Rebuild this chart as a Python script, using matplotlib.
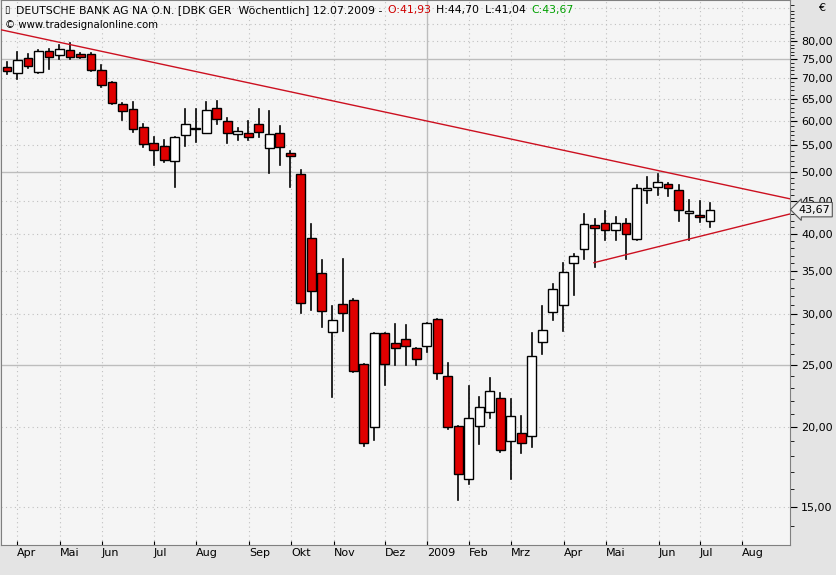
import matplotlib
matplotlib.use("Agg")
import matplotlib.pyplot as plt
import numpy as np
from matplotlib.patches import Rectangle

# weekly OHLC (EUR), Apr 2008 - Jul 2009
opens  = [72.9,71.3,75.3,71.6,77.2,76.1,77.5,76.4,76.4,72.1,69.1,63.8,62.7,58.8,55.5,54.9,52.0,57.0,58.3,57.5,62.9,60.1,57.3,57.5,59.4,54.5,57.5,53.5,
          49.6,39.5,34.8,28.1,31.1,31.6,25.1,20.0,28.0,27.1,27.4,26.6,26.8,29.5,24.0,20.1,16.6,20.1,21.1,22.2,19.0,19.6,19.4,27.2,30.2,31.0,
          36.0,37.9,41.4,41.6,40.6,41.7,39.3,46.9,47.4,47.9,46.9,43.1,42.8,41.93]
highs  = [74.3,77.0,76.4,77.5,77.8,79.0,79.3,76.7,76.7,73.4,69.1,64.1,64.3,59.4,56.6,56.0,56.6,62.7,62.7,64.3,64.6,60.7,58.5,60.1,62.7,62.3,59.0,53.9,
          50.3,41.5,36.5,30.9,36.6,31.7,25.1,28.0,28.0,29.0,28.9,26.6,29.1,29.5,25.2,20.1,23.2,22.3,23.9,22.6,22.1,20.8,28.0,30.9,33.4,36.0,
          37.2,43.0,42.2,43.4,42.6,42.2,47.7,49.1,49.6,48.1,47.7,45.2,45.0,44.70]
lows   = [71.1,69.8,72.6,71.3,72.3,75.0,75.0,75.3,71.9,67.8,63.8,60.3,57.7,54.7,51.2,51.8,47.3,54.9,55.7,57.5,59.4,55.5,56.0,56.0,56.6,49.9,51.2,47.3,
          30.1,30.5,28.7,22.3,28.2,24.4,18.7,19.1,23.3,25.0,25.0,25.0,26.2,23.8,19.9,15.4,16.3,18.8,20.7,18.3,16.6,18.2,18.6,26.0,29.4,28.2,
          32.1,36.6,35.6,39.1,39.2,36.6,39.2,44.7,46.0,45.8,42.0,39.1,41.8,41.04]
closes = [71.9,74.8,73.1,77.2,75.6,77.8,75.6,75.6,72.1,68.3,64.1,62.3,58.3,55.3,54.1,52.2,56.6,59.4,58.5,62.5,60.5,57.5,57.9,56.6,57.7,57.3,54.7,52.9,
          31.2,32.6,30.3,29.4,30.1,24.5,18.9,28.0,25.1,26.6,26.8,25.5,29.1,24.3,20.0,16.9,20.7,21.5,22.8,18.4,20.8,18.9,25.8,28.3,32.8,34.9,
          37.0,41.5,40.9,40.6,41.7,40.0,47.2,47.2,48.3,47.2,43.6,43.4,42.5,43.67]

month_labels = ["Apr","Mai","Jun","Jul","Aug","Sep","Okt","Nov","Dez","2009","Feb","Mrz","Apr","Mai","Jun","Jul","Aug"]
month_px = [16,59,101,153,195,248,290,333,384,426,468,510,563,605,658,699,741]
ytick_vals = [15,20,25,30,35,40,45,50,55,60,65,70,75,80]

n = len(closes)
W, H = 836, 575
fig = plt.figure(figsize=(W/100, H/100), dpi=100)
fig.patch.set_facecolor("#e4e4e4")
ax = fig.add_axes([1/W, 30/H, 789/W, 545/H])
ax.set_facecolor("#f5f5f5")
ax.set_yscale("log")
ax.set_ylim(13.1, 92.7)
x0, dx = 6, (709 - 6) / (n - 1)
def px2i(p): return (p - x0) / dx
ax.set_xlim(px2i(0), px2i(789))

for v in range(15, 95, 5):
    if v in (25, 50, 75):
        ax.axhline(v, color="#bdbdbd", lw=1, zorder=0)
    else:
        ax.axhline(v, color="#c0c0c0", lw=0.8, ls=(0, (1, 3)), zorder=0)
for lab, p in zip(month_labels, month_px):
    if lab == "2009":
        ax.axvline(px2i(p), color="#bdbdbd", lw=1, zorder=0)
    else:
        ax.axvline(px2i(p), color="#c0c0c0", lw=0.8, ls=(0, (1, 3)), zorder=0)

for i in range(n):
    o, h, l, c = opens[i], highs[i], lows[i], closes[i]
    h = max(h, o, c); l = min(l, o, c)
    ax.plot([i, i], [l, h], color="black", lw=1.2, zorder=2)
    up = c >= o
    bot, top = (o, c) if up else (c, o)
    if top / bot < 1.006:
        top = bot * 1.006
    ax.add_patch(Rectangle((i - 0.42, bot), 0.84, top - bot,
                           facecolor="white" if up else "#e00000",
                           edgecolor="black", lw=1, zorder=3))

ax.plot([px2i(0), px2i(789)], [83.3, 45.4], color="#cc1020", lw=1, zorder=4)
ax.plot([px2i(593), px2i(789)], [36.1, 43.0], color="#cc1020", lw=1, zorder=4)

ax.set_xticks([px2i(p) for p in month_px])
ax.set_xticklabels(month_labels, fontsize=8)
ax.tick_params(axis="x", length=3, pad=2, direction="in")
for t in ax.get_xticklabels():
    t.set_horizontalalignment("left")
ax.yaxis.tick_right()
ax.set_yticks(ytick_vals)
ax.set_yticklabels([f"{v},00" for v in ytick_vals], fontsize=8)
ax.yaxis.set_minor_locator(matplotlib.ticker.FixedLocator(
    [v for v in np.arange(14, 92, 1.0) if v % 5 != 0]))
ax.yaxis.set_minor_formatter(matplotlib.ticker.NullFormatter())
ax.tick_params(axis="y", which="major", length=5, pad=3)
ax.tick_params(axis="y", which="minor", length=3)
for s in ax.spines.values():
    s.set_color("#808080")

# header pieces laid out one after another
fs = 7.8
fig.text(4/W, 1 - 10/H, "\u25af", fontsize=7, va="center")
pieces = [("DEUTSCHE BANK AG NA O.N. [DBK GER  Wöchentlich] 12.07.2009 - ", "black"),
          ("O:41,93 ", "#d00000"), ("H:44,70 ", "black"), ("L:41,04 ", "black"), ("C:43,67", "#00a000")]
renderer = fig.canvas.get_renderer()
xpos = 16
for s, col in pieces:
    t = fig.text(xpos/W, 1 - 10/H, s, fontsize=fs, va="center", color=col)
    xpos += t.get_window_extent(renderer).width + 2
fig.text(5/W, 1 - 25/H, "\u00a9 www.tradesignalonline.com", fontsize=7.3, va="center")
fig.text(818/W, 1 - 8/H, "€", fontsize=8, va="center")

an = ax.annotate("43,67", xy=(1.0, 43.67), xycoords=("axes fraction", "data"),
            xytext=(6, 0), textcoords="offset points", fontsize=8, va="center",
            bbox=dict(boxstyle="larrow,pad=0.2", fc="#eeeeee", ec="#555555", lw=0.8),
            annotation_clip=False, zorder=10)

fig.savefig("out.png", dpi=100, facecolor=fig.get_facecolor())
